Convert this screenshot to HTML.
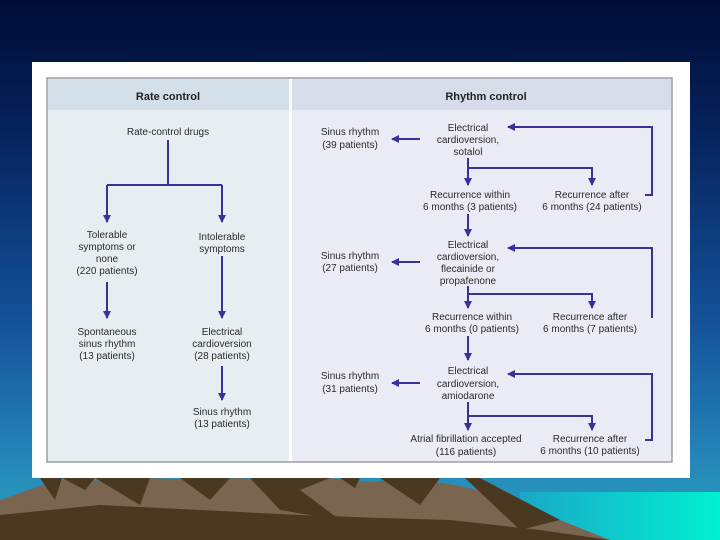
<!DOCTYPE html>
<html><head><style>
html,body{margin:0;padding:0;width:720px;height:540px;overflow:hidden}
body{background:linear-gradient(#010c35 0%,#06245e 25%,#15529a 60%,#2486b8 85%,#2aa3c0 100%)}
svg{position:absolute;left:0;top:0}
text{font-family:"Liberation Sans",sans-serif;font-size:10px;fill:#2a2a2a;text-anchor:middle}
.h{font-weight:bold;font-size:11px;fill:#222}
</style></head><body>
<svg width="720" height="540" viewBox="0 0 720 540">
<defs>
<linearGradient id="cy" x1="0" y1="0" x2="1" y2="0"><stop offset="0" stop-color="#1aa8c8"/><stop offset="1" stop-color="#00f0d0"/></linearGradient>
<marker id="a" markerWidth="8" markerHeight="8" refX="7" refY="4" orient="auto" markerUnits="userSpaceOnUse"><path d="M0,0 L8,4 L0,8 z" fill="#3b2f9c"/></marker>
</defs>
<rect x="520" y="492" width="200" height="48" fill="url(#cy)"/>
<polygon points="0,500 40,486 70,478 110,482 150,478 200,480 240,478 290,484 330,478 370,482 410,478 460,486 520,500 560,520 610,540 0,540" fill="#7a6650"/>
<polygon points="0,515 100,505 200,510 300,515 380,518 450,520 540,530 610,540 0,540" fill="#4a3820"/>
<polygon points="40,478 55,500 62,478 85,490 95,478 140,505 150,478 180,478 210,500 230,478 250,478 280,510 340,520 300,490 330,478 340,478 355,488 360,478 380,478 420,505 440,478 465,478 520,530 560,520 480,478" fill="#4a3820"/>
<rect x="32" y="62" width="658" height="416" fill="#fff"/>
<rect x="47" y="78" width="625" height="384" fill="#e7eef2" stroke="#9a9ea4" stroke-width="1.5"/>
<rect x="292" y="79" width="379" height="382" fill="#e9ecf5"/>
<rect x="48" y="79" width="241" height="31" fill="#d3e0ea"/>
<rect x="292" y="79" width="379" height="31" fill="#d6dcea"/>
<rect x="289" y="79" width="3" height="382" fill="#fff"/>
<text class="h" x="168" y="100">Rate control</text>
<text class="h" x="486" y="100">Rhythm control</text>
<g stroke="#3b2f9c" stroke-width="2" fill="none">
<path d="M168,140 V185 M107,185 H222"/>
<path d="M107,185 V222" marker-end="url(#a)"/>
<path d="M222,185 V222" marker-end="url(#a)"/>
<path d="M107,282 V318" marker-end="url(#a)"/>
<path d="M222,256 V318" marker-end="url(#a)"/>
<path d="M222,366 V400" marker-end="url(#a)"/>
<path d="M420,139 H392" marker-end="url(#a)"/>
<path d="M420,262 H392" marker-end="url(#a)"/>
<path d="M420,383 H392" marker-end="url(#a)"/>
<path d="M645,195 H652 V127 H508" marker-end="url(#a)"/>
<path d="M652,318 V248 H508" marker-end="url(#a)"/>
<path d="M645,440 H652 V374 H508" marker-end="url(#a)"/>
<path d="M468,158 V185" marker-end="url(#a)"/><path d="M468,168 H592 V185" marker-end="url(#a)"/>
<path d="M468,214 V236" marker-end="url(#a)"/>
<path d="M468,286 V308" marker-end="url(#a)"/><path d="M468,294 H592 V308" marker-end="url(#a)"/>
<path d="M468,336 V360" marker-end="url(#a)"/>
<path d="M468,402 V430" marker-end="url(#a)"/><path d="M468,416 H592 V430" marker-end="url(#a)"/>
</g>
<text x="168" y="135">Rate-control drugs</text>
<text x="107" y="238">Tolerable</text><text x="107" y="250">symptoms or</text><text x="107" y="262">none</text><text x="107" y="274">(220 patients)</text>
<text x="222" y="240">Intolerable</text><text x="222" y="252">symptoms</text>
<text x="107" y="335">Spontaneous</text><text x="107" y="347">sinus rhythm</text><text x="107" y="359">(13 patients)</text>
<text x="222" y="335">Electrical</text><text x="222" y="347">cardioversion</text><text x="222" y="359">(28 patients)</text>
<text x="222" y="415">Sinus rhythm</text><text x="222" y="427">(13 patients)</text>
<text x="350" y="135">Sinus rhythm</text><text x="350" y="148">(39 patients)</text>
<text x="468" y="131">Electrical</text><text x="468" y="143">cardioversion,</text><text x="468" y="155">sotalol</text>
<text x="470" y="198">Recurrence within</text><text x="470" y="210">6 months (3 patients)</text>
<text x="592" y="198">Recurrence after</text><text x="592" y="210">6 months (24 patients)</text>
<text x="350" y="259">Sinus rhythm</text><text x="350" y="271">(27 patients)</text>
<text x="468" y="248">Electrical</text><text x="468" y="260">cardioversion,</text><text x="468" y="272">flecainide or</text><text x="468" y="284">propafenone</text>
<text x="472" y="320">Recurrence within</text><text x="472" y="332">6 months (0 patients)</text>
<text x="590" y="320">Recurrence after</text><text x="590" y="332">6 months (7 patients)</text>
<text x="350" y="379">Sinus rhythm</text><text x="350" y="392">(31 patients)</text>
<text x="468" y="374">Electrical</text><text x="468" y="387">cardioversion,</text><text x="468" y="399">amiodarone</text>
<text x="466" y="442">Atrial fibrillation accepted</text><text x="466" y="455">(116 patients)</text>
<text x="590" y="442">Recurrence after</text><text x="590" y="454">6 months (10 patients)</text>
</svg>
</body></html>
